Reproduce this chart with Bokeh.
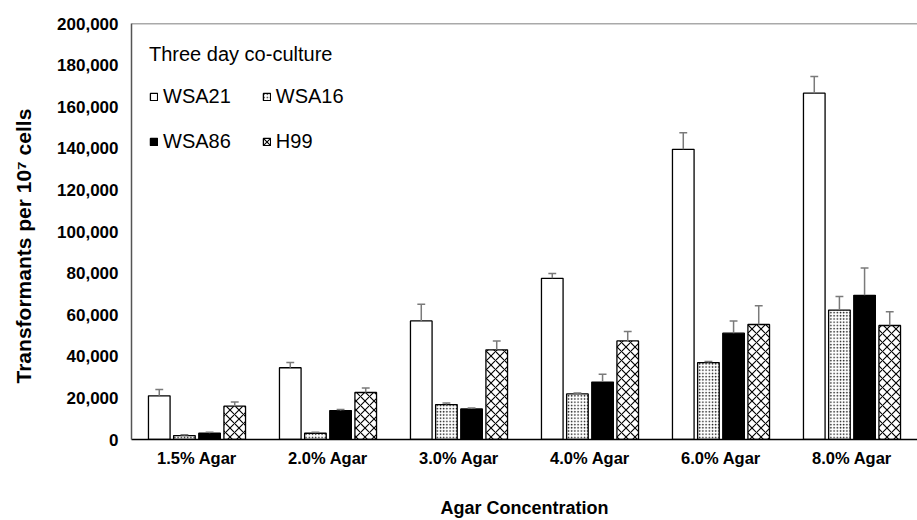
from bokeh.plotting import figure
from bokeh.models import (ColumnDataSource, FactorRange, Legend, LegendItem, Span,
                          SingleIntervalTicker, NumeralTickFormatter)
from bokeh.transform import dodge
from bokeh.embed import file_html
from bokeh.resources import INLINE

# ---------------- data ----------------
categories = ["1.5% Agar", "2.0% Agar", "3.0% Agar", "4.0% Agar", "6.0% Agar", "8.0% Agar"]
wsa21 = [21000, 34500, 57000, 77500, 139500, 166500]
wsa21_err = [3000, 2500, 8000, 2300, 8000, 8000]
wsa16 = [1900, 3000, 16800, 21900, 37000, 62200]
wsa16_err = [400, 500, 700, 500, 500, 6500]
wsa86 = [3000, 13900, 14700, 27600, 51100, 69300]
wsa86_err = [500, 500, 500, 3800, 5900, 13200]
h99 = [16000, 22600, 43100, 47400, 55300, 54800]
h99_err = [2000, 2100, 4300, 4500, 9000, 6600]
series_names = ["WSA21", "WSA16", "WSA86", "H99"]

FONT = "Liberation Sans"

data = dict(cat=categories)
for key, vals, errs in [("wsa21", wsa21, wsa21_err), ("wsa16", wsa16, wsa16_err),
                        ("wsa86", wsa86, wsa86_err), ("h99", h99, h99_err)]:
    data[key] = vals
    data[key + "_up"] = [v + e for v, e in zip(vals, errs)]
src = ColumnDataSource(data)

p = figure(x_range=FactorRange(*categories, range_padding=0), y_range=(0, 200000),
           width=917, height=520, output_backend="svg", toolbar_location=None,
           min_border_left=131, min_border_top=23, min_border_right=0, min_border_bottom=81)
p.background_fill_color = "white"
p.border_fill_color = "white"
p.outline_line_color = None
p.xgrid.visible = False
p.ygrid.visible = False

offsets = [-0.288, -0.096, 0.096, 0.288]
bar_w = 0.165
styles = [
    dict(fill_color="white"),
    dict(fill_color="white", hatch_pattern="dot", hatch_scale=3.2, hatch_weight=1.3, hatch_color="#111111"),
    dict(fill_color="black"),
    dict(fill_color="white", hatch_pattern="x", hatch_scale=9, hatch_weight=1.1, hatch_color="black"),
]
keys = ["wsa21", "wsa16", "wsa86", "h99"]
renderers = []
err_color = "#7a7a7a"
for key, off, st in zip(keys, offsets, styles):
    r = p.vbar(x=dodge("cat", off, range=p.x_range), top=key, width=bar_w, bottom=0,
               line_color="black", line_width=1.3, source=src, **st)
    renderers.append(r)
    p.segment(x0=dodge("cat", off, range=p.x_range), y0=key,
              x1=dodge("cat", off, range=p.x_range), y1=key + "_up",
              line_color=err_color, line_width=1.5, source=src)
    p.segment(x0=dodge("cat", off - 0.03, range=p.x_range), y0=key + "_up",
              x1=dodge("cat", off + 0.03, range=p.x_range), y1=key + "_up",
              line_color=err_color, line_width=1.5, source=src)

# top border line
p.add_layout(Span(location=200000, dimension="width", line_color="#555555", line_width=1.5))

# axes
yax = p.yaxis[0]
yax.ticker = SingleIntervalTicker(interval=20000, num_minor_ticks=0)
yax.formatter = NumeralTickFormatter(format="0,0")
yax.major_tick_line_color = None
yax.minor_tick_line_color = None
yax.major_tick_out = 0
yax.major_tick_in = 0
yax.axis_line_color = "#555555"
yax.axis_line_width = 1.5
yax.major_label_standoff = 13
yax.major_label_text_font = FONT
yax.major_label_text_font_style = "bold"
yax.major_label_text_font_size = "17px"
yax.major_label_text_color = "black"
yax.axis_label = "Transformants per 10\u2077 cells" + "\u00a0" * 5
yax.axis_label_text_font = FONT
yax.axis_label_text_font_style = "bold"
yax.axis_label_text_font_size = "21px"
yax.axis_label_text_color = "black"
yax.axis_label_standoff = 19

xax = p.xaxis[0]
xax.major_tick_line_color = None
xax.minor_tick_line_color = None
xax.major_tick_out = 0
xax.major_tick_in = 0
xax.axis_line_color = "black"
xax.axis_line_width = 1.5
xax.major_label_standoff = 9
xax.major_label_text_font = FONT
xax.major_label_text_font_style = "bold"
xax.major_label_text_font_size = "16.5px"
xax.major_label_text_color = "black"
xax.axis_label = "Agar Concentration"
xax.axis_label_text_font = FONT
xax.axis_label_text_font_style = "bold"
xax.axis_label_text_font_size = "18px"
xax.axis_label_text_color = "black"
xax.axis_label_standoff = 28

def make_legend(items, loc, title=None):
    lg = Legend(items=items, location=loc, orientation="horizontal",
                border_line_color=None, background_fill_alpha=0,
                padding=0, margin=0, spacing=31, label_standoff=5,
                glyph_width=9, glyph_height=9, label_height=20,
                label_text_font=FONT, label_text_font_size="20px", label_text_color="black")
    if title:
        lg.title = title
        lg.title_text_font = FONT
        lg.title_text_font_style = "normal"
        lg.title_text_font_size = "20px"
        lg.title_text_color = "black"
        lg.title_standoff = 19
    return lg

leg1 = make_legend([LegendItem(label=series_names[0], renderers=[renderers[0]]),
                    LegendItem(label=series_names[1], renderers=[renderers[1]])],
                   (18, 331), title="Three day co-culture")
leg2 = make_legend([LegendItem(label=series_names[2], renderers=[renderers[2]]),
                    LegendItem(label=series_names[3], renderers=[renderers[3]])],
                   (18, 286))
p.add_layout(leg1)
p.add_layout(leg2)

open("out.html", "w").write(file_html(p, INLINE))
